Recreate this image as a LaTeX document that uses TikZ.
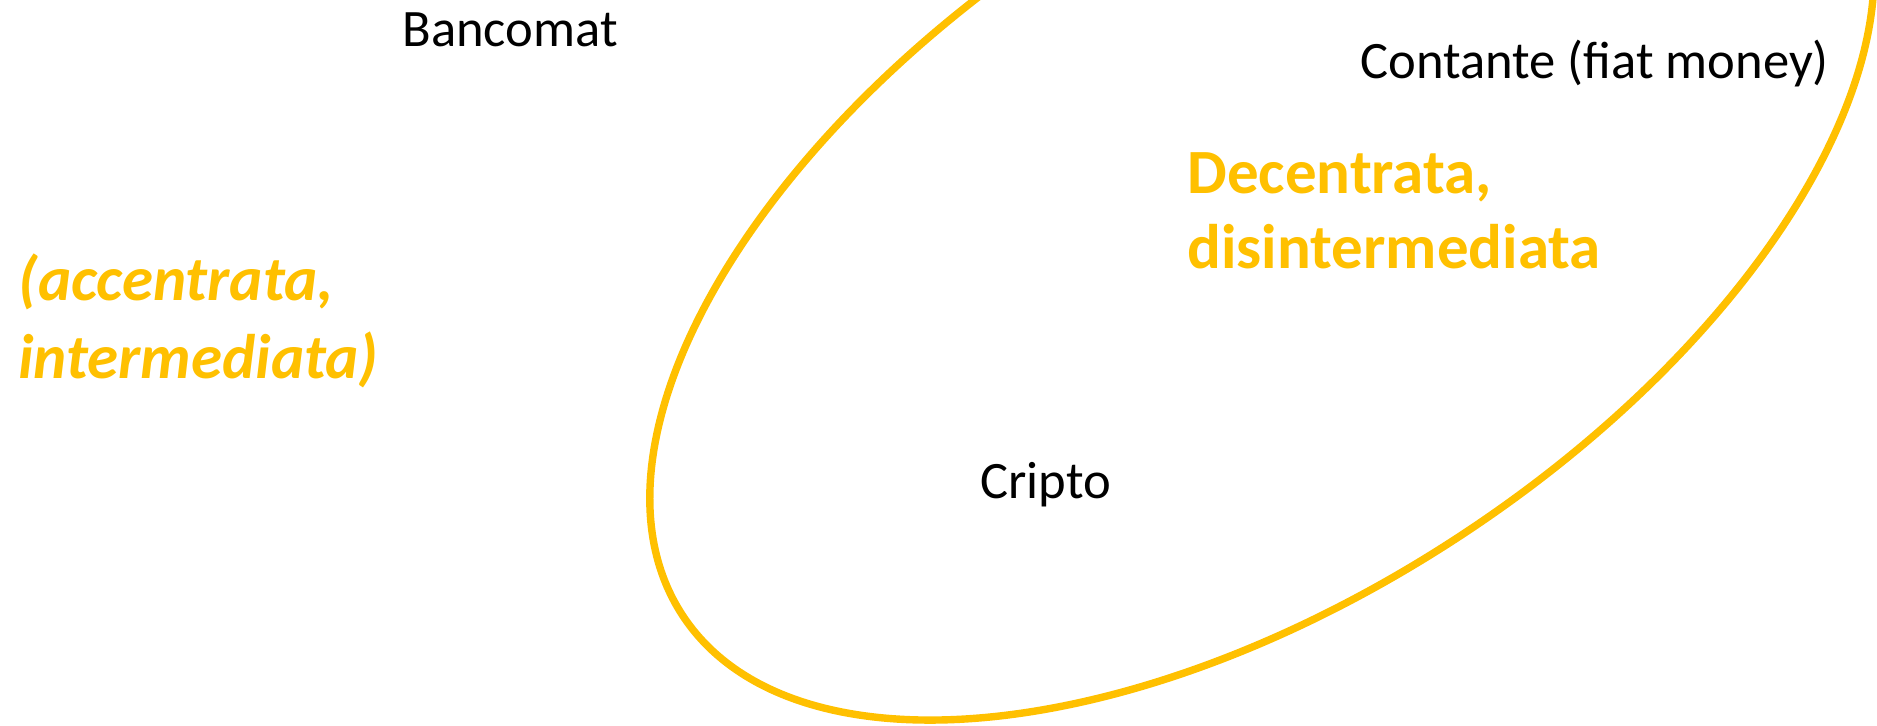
\documentclass[tikz,border=0pt]{standalone}
\usepackage{fontspec}
\setmainfont{Carlito}
\usepackage{tikz}
\usetikzlibrary{positioning}
\definecolor{oro}{HTML}{FFC000}

\begin{document}
\begin{tikzpicture}[x=0.5pt, y=-0.5pt,
        txt/.style={inner sep=0pt, anchor=base west, font=\fontsize{26.3}{31}\selectfont},
        gold/.style={inner sep=0pt, anchor=base west, text=oro, align=left},
        ring/.style={draw=oro, line width=3.7pt}]
                \useasboundingbox (0,0) rectangle (1877,725);
                \clip (0,0) rectangle (1877,725);
                \coordinate (ctr) at (1262,236);
                \draw[ring, rotate around={33.2:(ctr)}] (ctr) ellipse [x radius=346.25pt, y radius=179.75pt];
                \node[txt] (bancomat) at (402,46) {Bancomat};
                \node[txt] (contante) at (1360,78) {Contante (fiat money)};
                \node[txt] (cripto) at (980,498) {Cripto};
                % base anchor sits on the last line
                \node[gold, font=\fontsize{31.5}{37.5}\selectfont\bfseries] (decentr) at (1187,268) {Decentrata,\\disintermediata};
                \node[gold, font=\fontsize{31.5}{39}\selectfont\bfseries\itshape] (accentr) at (18,378) {(accentrata,\\intermediata)};
\end{tikzpicture}
\end{document}
